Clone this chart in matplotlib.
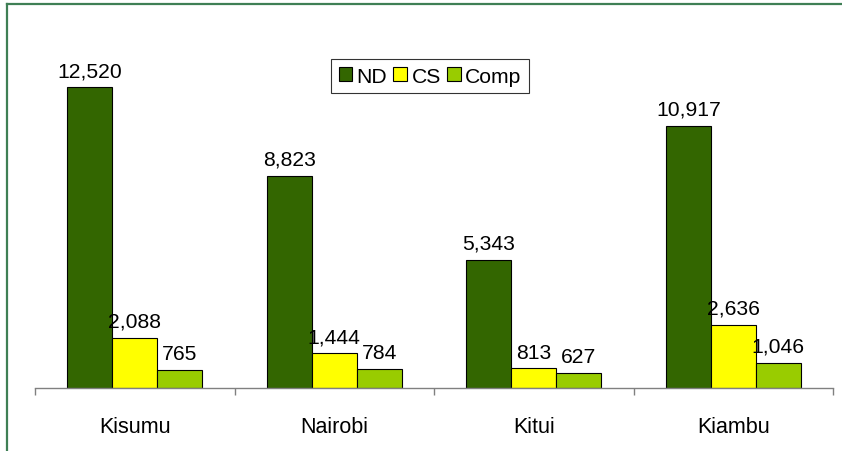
import matplotlib
matplotlib.use("Agg")
import matplotlib.pyplot as plt
from matplotlib.lines import Line2D
import numpy as np

plt.rcParams['font.family'] = ['Liberation Sans', 'DejaVu Sans']

regions = ['Kisumu', 'Nairobi', 'Kitui', 'Kiambu']
nd = [12520, 8823, 5343, 10917]
cs = [2088, 1444, 813, 2636]
comp = [765, 784, 627, 1046]

series = [('ND', nd, '#336600'), ('CS', cs, '#FFFF00'), ('Comp', comp, '#99CC00')]

W, H = 842, 452
fig = plt.figure(figsize=(W / 100, H / 100), dpi=100)
ax = fig.add_axes([35 / W, (H - 389) / H, (833 - 35) / W, (389 - 28.4) / H])

x = np.arange(len(regions))
bw = 0.225
for i, (name, vals, col) in enumerate(series):
    pos = x + (i - 1) * bw
    bars = ax.bar(pos, vals, width=bw, color=col, edgecolor='black', linewidth=0.8, label=name)
    for b, v in zip(bars, vals):
        ax.annotate(f'{v:,}', (b.get_x() + b.get_width() / 2, v), xytext=(0, 5),
                    textcoords='offset points', ha='center', va='bottom', fontsize=15.2)

ax.set_xlim(-0.5, len(regions) - 0.5)
ax.set_ylim(0, 15000)
ax.set_xticks(x)
ax.set_xticklabels(regions, fontsize=15.5)
ax.set_xticks(np.arange(-0.5, len(regions)), minor=True)
ax.tick_params(axis='x', which='major', length=0, pad=20)
ax.tick_params(axis='x', which='minor', length=5, color='#808080', width=1)
ax.set_yticks([])
for s in ['top', 'right', 'left']:
    ax.spines[s].set_visible(False)
ax.spines['bottom'].set_color('#808080')
ax.spines['bottom'].set_linewidth(1)

leg = ax.legend(loc='upper center', bbox_to_anchor=(0.495, 0.912), ncol=3, fontsize=15.2,
                handlelength=0.65, handleheight=0.65, handletextpad=0.2, columnspacing=0.3,
                borderpad=0.35, borderaxespad=0, frameon=True, fancybox=False)
leg.get_frame().set_edgecolor('black')
leg.get_frame().set_linewidth(0.8)

# border on left and top edges of the picture
fig.add_artist(Line2D([7 / W, 7 / W], [0, 1 - 5 / H], transform=fig.transFigure, color='#3f7f55', linewidth=1.6))
fig.add_artist(Line2D([7 / W, 1], [1 - 5 / H, 1 - 5 / H], transform=fig.transFigure, color='#3f7f55', linewidth=1.6))

fig.savefig('out.png', dpi=100)
